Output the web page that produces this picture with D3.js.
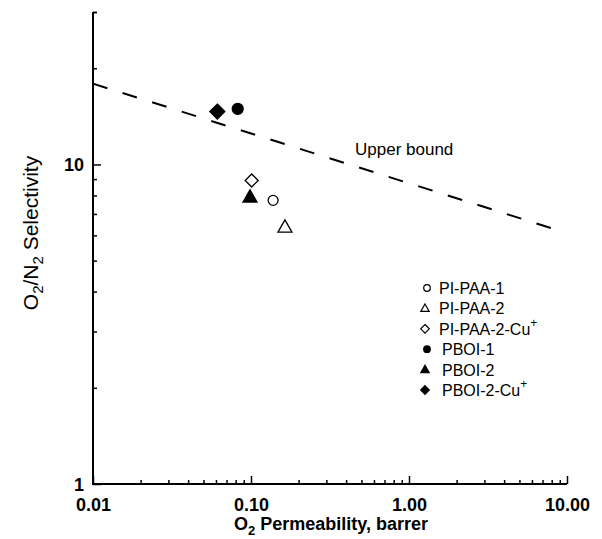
<!DOCTYPE html>
<html><head><meta charset="utf-8">
<script src="https://cdn.jsdelivr.net/npm/d3@7"></script>
<style>body{margin:0;background:#fff}svg{display:block}text{font-family:"Liberation Sans",Arial,sans-serif}</style>
</head><body>
<svg id="c" width="602" height="539"></svg>
<script>
// Data
const seriesNames = ["PI-PAA-1","PI-PAA-2","PI-PAA-2-Cu","PBOI-1","PBOI-2","PBOI-2-Cu"];
const seriesSup = ["","","+","","","+"];
const seriesShape = ["circle","triangle","diamond","circle","triangle","diamond"];
const seriesFilled = [false,false,false,true,true,true];
const permeability = [0.138,0.164,0.101,0.0824,0.0986,0.0612];
const selectivity = [7.72,6.36,8.91,14.93,7.9,14.64];
const boundX = [0.01, 9.3];
const boundY = [17.9, 6.17];
const xMajor = [0.01,0.1,1,10];
const xMajorLabels = ["0.01","0.10","1.00","10.00"];
const yMajor = [1,10];
const yMajorLabels = ["1","10"];

const svg = d3.select("#c");
const x = d3.scaleLog().domain([0.01,10]).range([93,567]);
const y = d3.scaleLog().domain([1,30]).range([484,12]);

const xMinor = [];
[0.01,0.1,1].forEach(d=>{for(let k=2;k<=9;k++) xMinor.push(d*k);});
const yMinor = [];
[1,10].forEach(d=>{for(let k=2;k<=9;k++){const v=d*k; if(v<=30) yMinor.push(v);}});
yMinor.push(30);

const FONT = "'Liberation Sans',Arial,sans-serif";
// x axis
const gx = svg.append("g").attr("transform","translate(0,484)");
gx.call(d3.axisBottom(x).tickValues(xMinor).tickSize(-4).tickFormat(""));
const gx2 = svg.append("g").attr("transform","translate(0,484)");
gx2.call(d3.axisBottom(x).tickValues(xMajor).tickSize(-8).tickFormat((d,i)=>xMajorLabels[i]));
gx2.selectAll(".tick text").attr("y",27).attr("dy",0).attr("font-size",18).attr("font-weight","bold").attr("fill","#000").attr("font-family",FONT);

// y axis
const gy = svg.append("g").attr("transform","translate(93,0)");
gy.call(d3.axisLeft(y).tickValues(yMinor).tickSize(-4).tickFormat(""));
const gy2 = svg.append("g").attr("transform","translate(93,0)");
gy2.call(d3.axisLeft(y).tickValues(yMajor).tickSize(-8).tickFormat((d,i)=>yMajorLabels[i]));
gy2.selectAll(".tick text").attr("x",-9).attr("dy","0.36em").attr("font-size",18).attr("font-weight","bold").attr("fill","#000").attr("font-family",FONT);
[gx,gx2,gy,gy2].forEach(g=>{g.select(".domain").remove();g.selectAll(".tick line").attr("stroke","#000").attr("stroke-width",1.5);});
svg.append("path").attr("d",`M${x(0.01)},${y(30)}V${y(1)}H${x(10)}`).attr("fill","none").attr("stroke","#000").attr("stroke-width",2);

// upper bound
svg.append("path").datum(boundX.map((d,i)=>[d,boundY[i]]))
  .attr("d",d3.line().x(d=>x(d[0])).y(d=>y(d[1])))
  .attr("fill","none").attr("stroke","#000").attr("stroke-width",2).attr("stroke-dasharray","15,16");
svg.append("text").attr("x",355).attr("y",155).attr("font-size",17).text("Upper bound");

function symPath(shape,r){
  if(shape==="diamond") return `M0,${-r}L${r},0L0,${r}L${-r},0Z`;
  if(shape==="triangle"){const h=r*1.75;return `M0,${-h*0.6}L${r},${h*0.4}L${-r},${h*0.4}Z`;}
  return d3.symbol().type(d3.symbolCircle).size(Math.PI*r*r)();
}
const plotR = {circle:5,triangle:7,diamond:6.5};
// points
seriesNames.forEach((n,i)=>{
  let r = plotR[seriesShape[i]];
  if(seriesShape[i]==="diamond" && seriesFilled[i]) r = 7.5;
  if(seriesShape[i]==="circle" && seriesFilled[i]) r = 5.5;
  svg.append("path").attr("d",symPath(seriesShape[i],r))
    .attr("transform",`translate(${x(permeability[i])},${y(selectivity[i])})`)
    .attr("fill",seriesFilled[i]?"#000":"#fff").attr("stroke","#000").attr("stroke-width",1.3);
});

// legend
const legY0 = 288, legDy = 20.4;
const legR = {circle:3.3,triangle:4.2,diamond:4.3};
seriesNames.forEach((n,i)=>{
  const yy = legY0 + i*legDy;
  const mx = seriesShape[i]==="circle"?427:425;
  svg.append("path").attr("d",symPath(seriesShape[i],legR[seriesShape[i]]))
    .attr("transform",`translate(${mx},${yy})`)
    .attr("fill",seriesFilled[i]?"#000":"#fff").attr("stroke","#000").attr("stroke-width",1.2);
  const t = svg.append("text").attr("x", i<3?439:442).attr("y",yy+6).attr("font-size",16).text(n);
  if(seriesSup[i]) t.append("tspan").attr("dy",-8).attr("font-size",12).text(seriesSup[i]);
});

// axis titles
const xt = svg.append("text").attr("x",331).attr("y",530).attr("text-anchor","middle").attr("font-size",18).attr("font-weight","bold");
xt.append("tspan").text("O");
xt.append("tspan").attr("dy",5).attr("font-size",13).text("2");
xt.append("tspan").attr("dy",-5).text(" Permeability, barrer");

const yt = svg.append("text").attr("transform","translate(38,233) rotate(-90)").attr("text-anchor","middle").attr("font-size",21);
yt.append("tspan").text("O");
yt.append("tspan").attr("dy",5).attr("font-size",15).text("2");
yt.append("tspan").attr("dy",-5).text("/N");
yt.append("tspan").attr("dy",5).attr("font-size",15).text("2");
yt.append("tspan").attr("dy",-5).text(" Selectivity");
</script>
</body></html>
